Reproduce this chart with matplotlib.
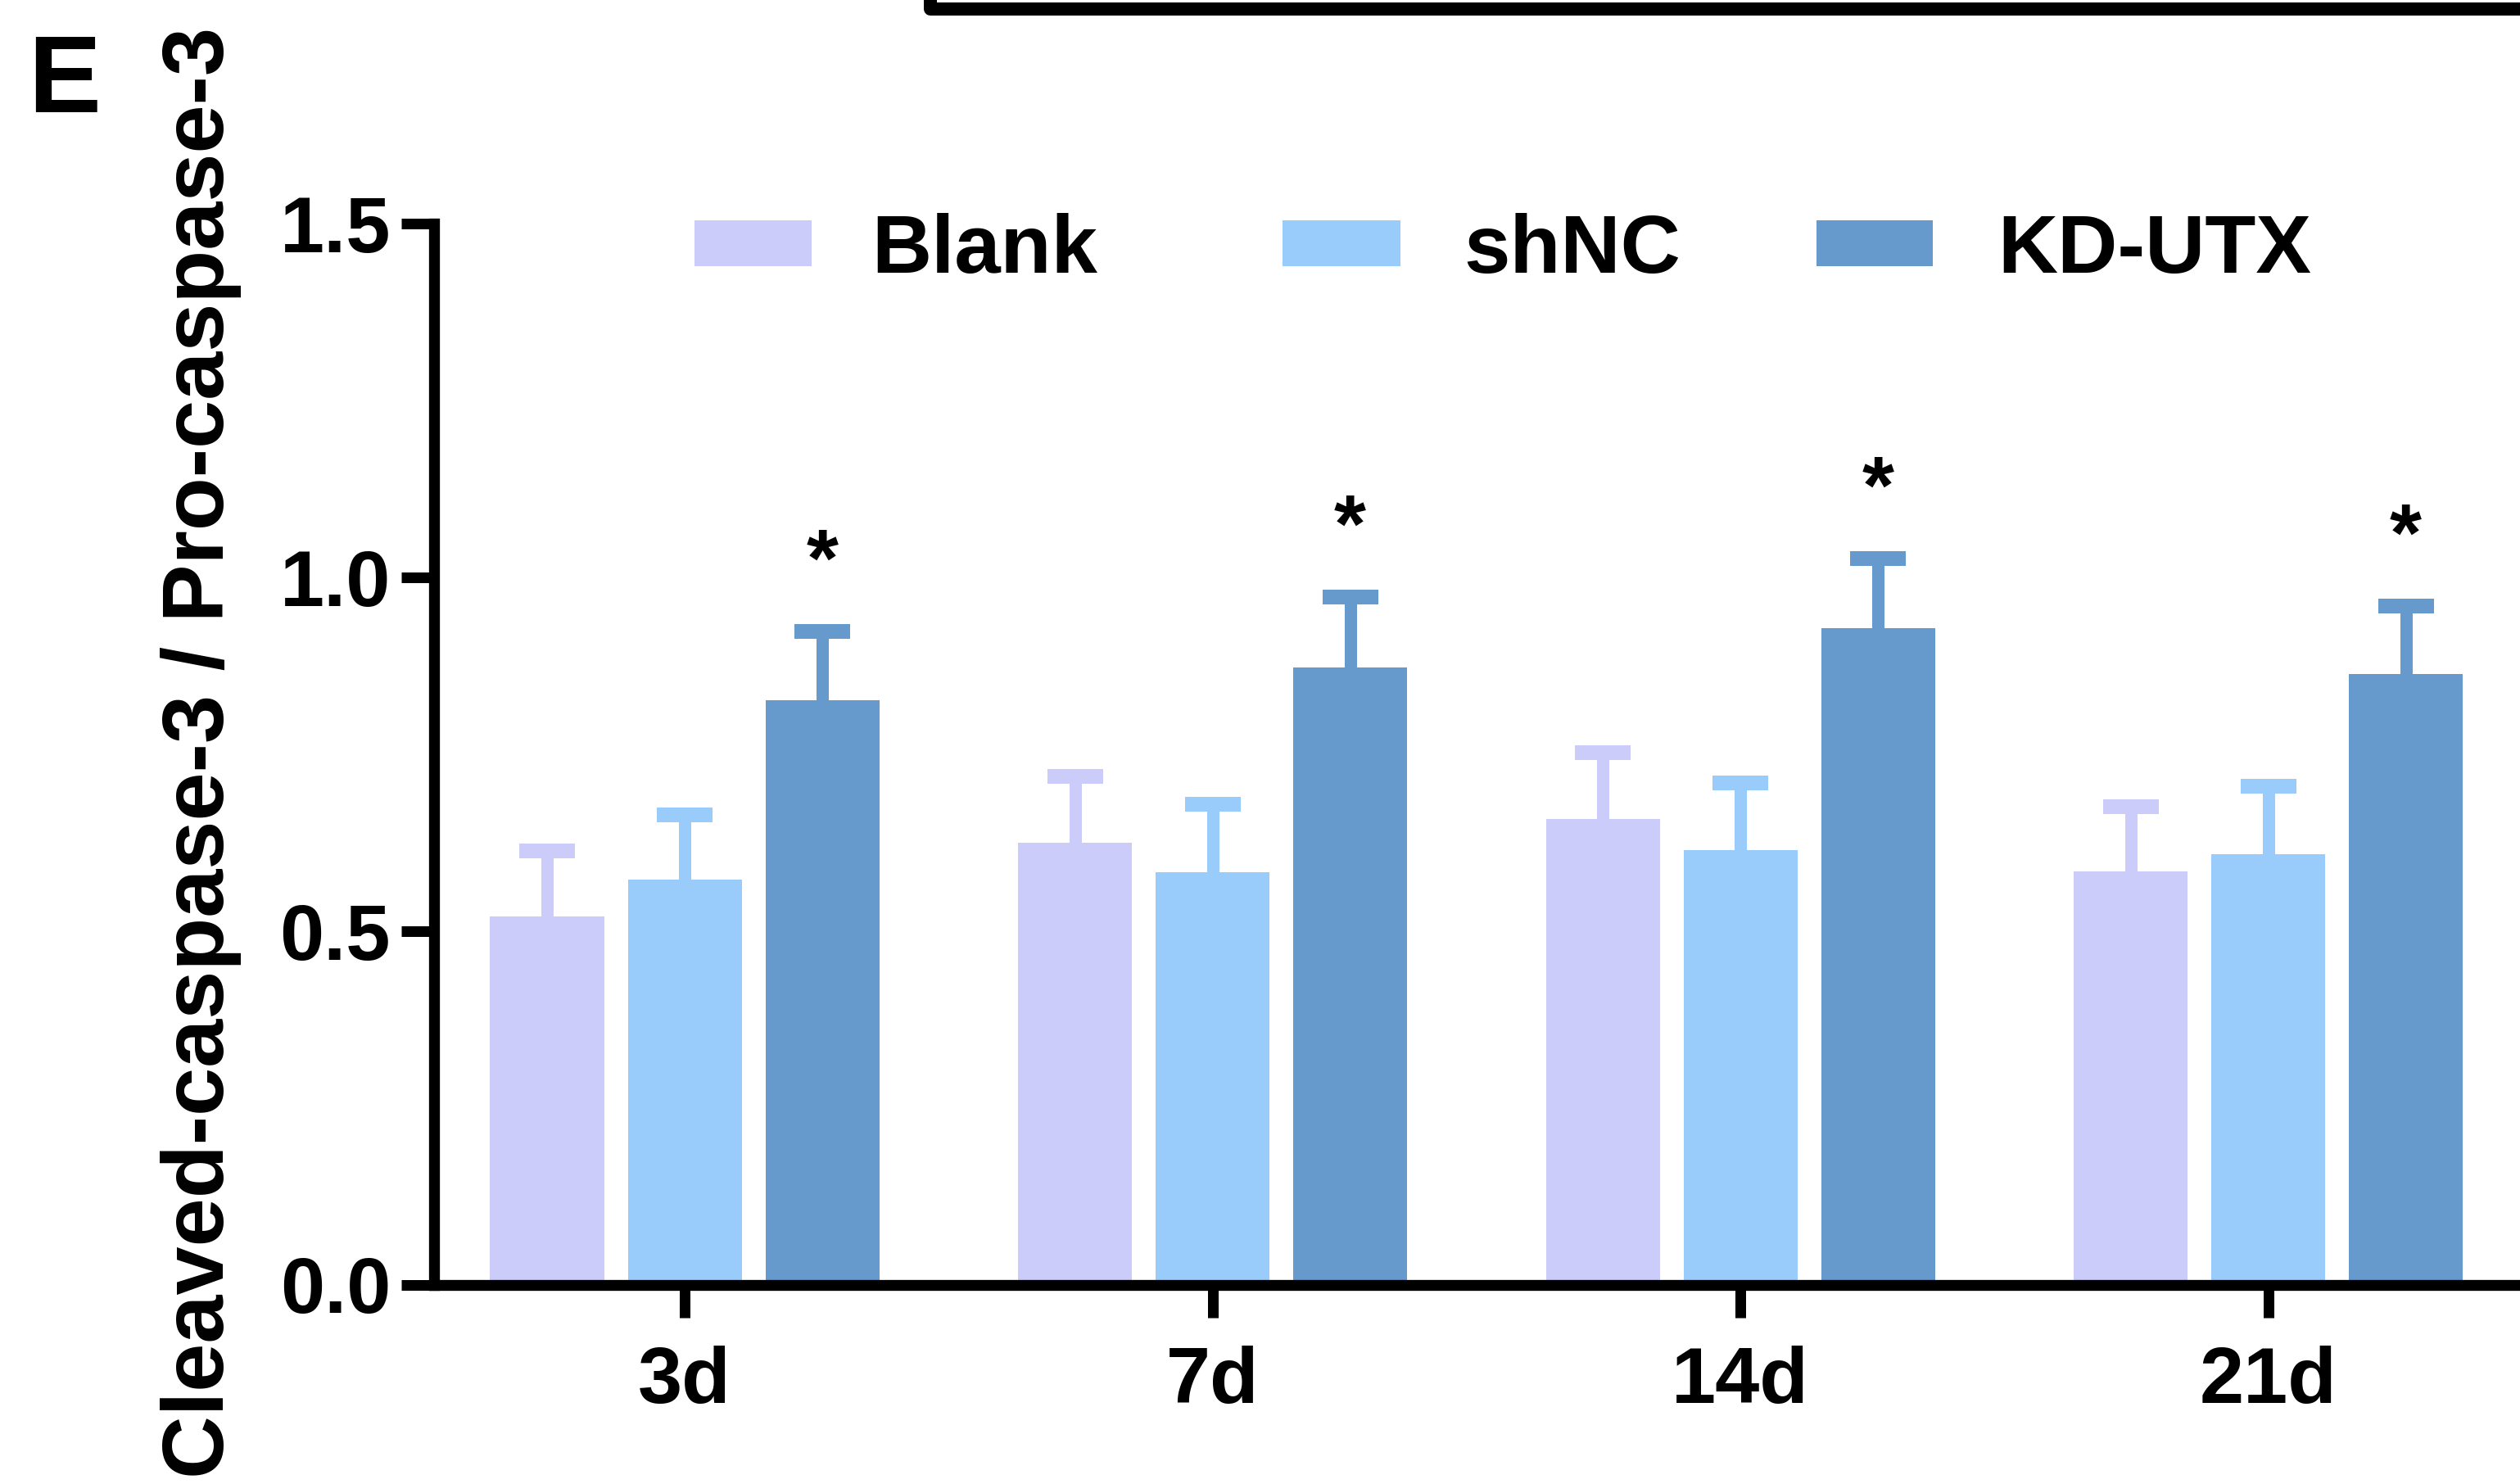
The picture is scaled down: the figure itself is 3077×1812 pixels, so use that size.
import matplotlib
matplotlib.use("Agg")
import matplotlib.pyplot as plt
import numpy as np
from matplotlib.patches import Rectangle
from matplotlib.lines import Line2D

plt.rcParams['font.family'] = ['Liberation Sans', 'DejaVu Sans']
plt.rcParams['font.weight'] = 'bold'

# ---- data ----
categories = ["3d", "7d", "14d", "21d"]
series_names = ["Blank", "shNC", "KD-UTX"]
blank = [0.520, 0.625, 0.658, 0.584]
shnc = [0.573, 0.583, 0.614, 0.609]
kd_utx = [0.826, 0.873, 0.928, 0.863]
blank_err = [0.093, 0.094, 0.094, 0.092]
shnc_err = [0.091, 0.096, 0.095, 0.096]
kd_utx_err = [0.097, 0.099, 0.098, 0.096]
significant = [True, True, True, True]   # '*' above KD-UTX
yticks = [0.0, 0.5, 1.0, 1.5]
ylabel = "Cleaved-caspase-3 / Pro-caspase-3"
colors = ["#CCCCFA", "#99CCFA", "#6699CC"]

W, H = 3077, 1812
DPI = 100
def fx(p): return p / W
def fy(p): return 1 - p / H
PT = 72.0 / DPI   # points per pixel

fig = plt.figure(figsize=(W / DPI, H / DPI), dpi=DPI)
left = fx(530)
bottom = fy(1568.5)
top = fy(273)
ax = fig.add_axes([left, bottom, 1.0 - left, top - bottom])

x = np.arange(len(categories))
bw = 0.2157
off = 0.2607
vals = [blank, shnc, kd_utx]
errs = [blank_err, shnc_err, kd_utx_err]
for i, (v, e, c) in enumerate(zip(vals, errs, colors)):
    xi = x + (i - 1) * off
    ax.bar(xi, v, width=bw, color=c, edgecolor='none', zorder=2)
    eb = ax.errorbar(xi, v, yerr=[np.zeros(len(v)), e], fmt='none', ecolor=c,
                     elinewidth=15 * PT, capsize=24.5, capthick=18 * PT, zorder=1.9)
    # one-sided (upper) error bars: hide the lower cap
    eb[1][0].set_visible(False)

for xi, v, e, s in zip(x + off, kd_utx, kd_utx_err, significant):
    if s:
        ax.annotate('*', xy=(xi, v + e), xytext=(0, 40), textcoords='offset points',
                    ha='center', va='baseline', fontsize=72, fontweight='bold')

ax.set_xlim(-0.4748, 3.477)
ax.set_ylim(0, 1.5)
ax.set_xticks(x)
ax.set_xticklabels(categories)
ax.set_yticks(yticks)
ax.set_yticklabels([f"{t:.1f}" for t in yticks])
for sp in ['top', 'right']:
    ax.spines[sp].set_visible(False)
for sp in ['left', 'bottom']:
    ax.spines[sp].set_linewidth(13.3 * PT)
ax.tick_params(axis='both', length=40 * PT, width=13 * PT, labelsize=70, direction='out')
ax.tick_params(axis='x', pad=34 * PT)
ax.tick_params(axis='y', pad=13 * PT)
for lab in ax.get_xticklabels() + ax.get_yticklabels():
    lab.set_fontweight('bold')

# y label
fig.text(fx(245.5), fy(919), ylabel, rotation=90, ha='center', va='center',
         fontsize=76.5, fontweight='bold')

# legend (manual layout)
leg_patch_x = [(848, 991), (1566, 1710), (2218, 2360)]
leg_text_x = [1064, 1787, 2439]
for (x0, x1), tx, name, c in zip(leg_patch_x, leg_text_x, series_names, colors):
    fig.add_artist(Rectangle((fx(x0), fy(325)), fx(x1) - fx(x0), (325 - 269) / H,
                             transform=fig.transFigure, facecolor=c, edgecolor='none'))
    fig.text(fx(tx), fy(333), name, ha='left', va='baseline', fontsize=73,
             fontweight='bold')

# panel letter
fig.text(fx(34), fy(137), "E", ha='left', va='baseline', fontsize=96, fontweight='bold')

# border of the panel above
fig.add_artist(Line2D([fx(1136), fx(1136), 1.01], [fy(-40), fy(11), fy(11)],
                      transform=fig.transFigure, color='black', lw=16 * PT,
                      solid_joinstyle='round'))

fig.savefig("out.png", dpi=DPI, facecolor='white')
